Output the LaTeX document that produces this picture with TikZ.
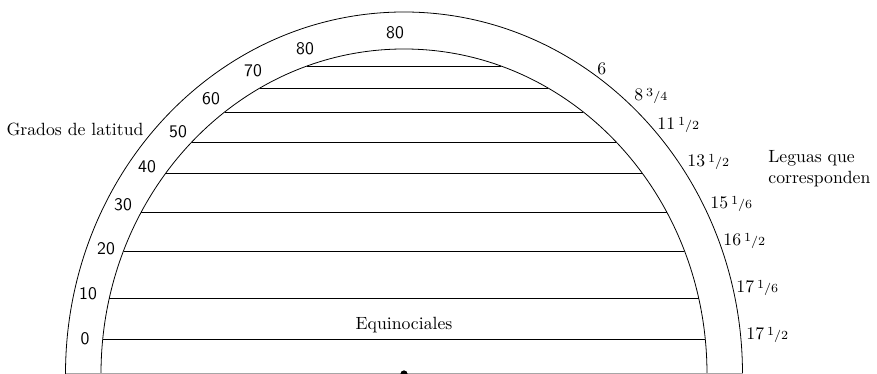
\documentclass[tikz,border=0pt]{standalone}
\usepackage{tikz}
\usetikzlibrary{positioning}
\newcommand{\fr}[2]{\,{\scriptsize\raisebox{0.75ex}{#1}/#2}}

\begin{document}
\begin{tikzpicture}[x=0.565pt,y=0.565pt,line width=0.45pt,
    grado/.style={font=\sffamily},
    legua/.style={anchor=west}]
  \useasboundingbox (0,0) rectangle (877,374);
  % band of the quadrant
  \draw (742.5,0) arc[start angle=0,end angle=180,x radius=338.5,y radius=362];
  \draw (707,0) arc[start angle=0,end angle=180,x radius=303,y radius=325];
  \draw[black!35] (65.5,0.6) -- (742.5,0.6);
  \fill (404,0) circle (3.6);
  % parallels cut by the inner arc
  \foreach \h in {35,76,123,162,201,232,262,286,308} {
    \pgfmathsetmacro{\hw}{303*sqrt(1-(\h/325)^2)}
    \draw[line width=0.55pt] (404-\hw,\h) -- (404+\hw,\h);
  }
  % degrees of latitude
  \foreach \x/\y/\t in {395/341/80,305/325/80,253/303/70,211/275/60,178/242/50,
                        147/207/40,123/169/30,106/125/20,88/80/10,85/35/0}
    \node[grado] (g\t) at (\x,\y) {\t};
  % leagues
  \foreach \x/\y/\t [count=\i] in {597/305/{6},634/278/{8\fr{3}{4}},657/249/{11\fr{1}{2}},
                        687/212/{13\fr{1}{2}},710/170/{15\fr{1}{6}},723/133/{16\fr{1}{2}},
                        736/86/{17\fr{1}{6}},746/39/{17\fr{1}{2}}}
    \node[legua,inner sep=0pt] (l\i) at (\x,\y) {\t};
  \node (grados) at (75,245) {Grados de latitud};
  \node[anchor=west,align=left,inner sep=0pt] (leguas) at (768,205) {Leguas que\\corresponden};
  \node (equi) at (404,49) {Equinociales};
\end{tikzpicture}
\end{document}
